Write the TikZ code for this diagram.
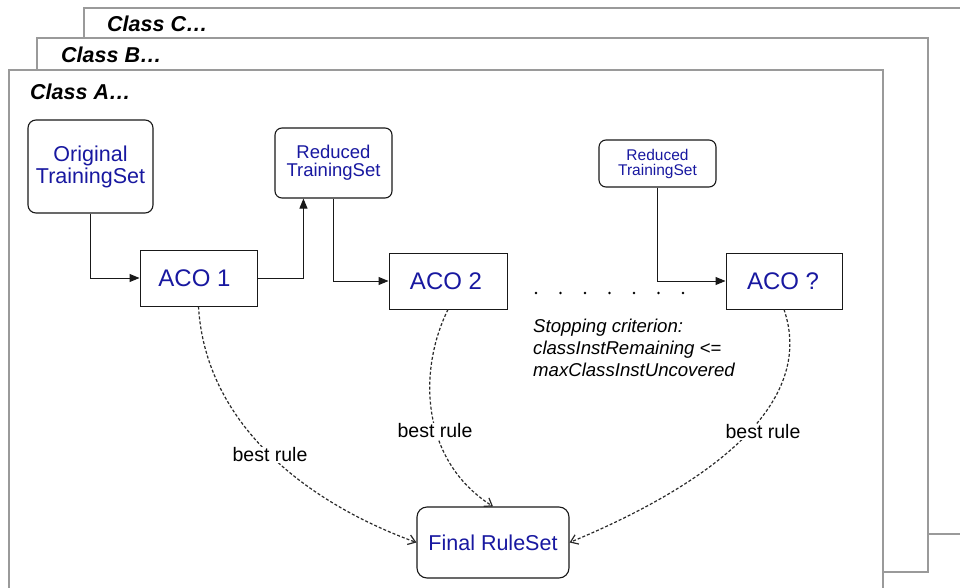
\documentclass[tikz,border=0pt]{standalone}
\usepackage{fontspec}
\setmainfont{Liberation Sans}
\usetikzlibrary{arrows.meta}
\definecolor{framegray}{HTML}{9A9A9A}
\definecolor{textblue}{HTML}{1818A0}
\definecolor{curvegray}{HTML}{2A2A2A}
\newcommand{\setfs}[2]{\fontsize{#1}{#2}\selectfont}
\begin{document}
\begin{tikzpicture}[x=1pt,y=-1pt,
  frame/.style={draw=framegray, line width=1.2pt, fill=white},
  classlabel/.style={anchor=base west, inner sep=0pt, font=\bfseries\itshape\setfs{21.5}{25}},
  rbox/.style={draw=black!90, line width=1.1pt, rounded corners=8pt, fill=white,
    text=textblue, align=center, inner sep=0pt},
  abox/.style={draw=black!90, line width=1pt, fill=white, text=textblue, inner sep=0pt,
    minimum width=117pt, minimum height=56pt, font=\setfs{24}{28}},
  flow/.style={draw=black!90, line width=1pt, -{Triangle[length=10pt,width=8pt]}},
  rulelink/.style={draw=curvegray, line width=1.2pt, dash pattern=on 3pt off 2pt,
    -{Straight Barb[length=7pt,width=10pt]}},
  rulelabel/.style={fill=white, inner sep=1pt, font=\setfs{19.5}{22}}
]
\useasboundingbox (0,0) rectangle (960,588);
\clip (0,0) rectangle (960,588);

% stacked class frames
\path[frame] (84,8) rectangle (980,534);
\path[frame] (37,38) rectangle (928,572);
\path[frame] (9,70) rectangle (883,600);

\node[classlabel] (lblC) at (107,32) {Class C…};
\node[classlabel] (lblB) at (61,63) {Class B…};
\node[classlabel] (lblA) at (30,100) {Class A…};

% training sets and ACO runs
\node[rbox, minimum width=125pt, minimum height=93pt, font=\setfs{21.5}{22}] (orig) at (90.5,166.5) {Original\\TrainingSet};
\node[rbox, minimum width=117pt, minimum height=70pt, rounded corners=7pt, font=\setfs{18.5}{18}] (red1) at (333.5,163) {Reduced\\TrainingSet};
\node[rbox, minimum width=117pt, minimum height=47pt, rounded corners=7pt, font=\setfs{15.5}{15}] (red2) at (657.5,163.5) {Reduced\\TrainingSet};

\node[abox] (aco1) at (198.5,278) {ACO 1\hspace*{8pt}};
\node[abox, minimum width=118pt] (aco2) at (448,281) {ACO 2\hspace*{4pt}};
\node[abox, minimum width=116pt] (acoq) at (784,281) {ACO ?\hspace*{2pt}};

\node[rbox, minimum width=152pt, minimum height=71pt, rounded corners=10pt, font=\setfs{21.5}{24}] (final) at (493,542.5) {Final RuleSet};

% data flow
\draw[flow] (orig.south) |- (aco1.west);
\draw[flow] (aco1.east) -| ([xshift=29pt]red1.south west);
\draw[flow] (red1.south) |- (aco2.west);
\draw[flow] (red2.south) |- (acoq.west);

% ellipsis between runs
\foreach \k in {0,...,6} \fill (536+24.5*\k,293) circle (1.3pt);

\node[anchor=north west, inner sep=0pt, align=left, font=\itshape\setfs{18.6}{22}] (stop) at (533,318.5)
  {Stopping criterion:\\classInstRemaining <=\\maxClassInstUncovered};

% best rules collected into the final rule set
\draw[rulelink] (aco1.south) .. controls (205,420) and (300,500) .. (final.west);
\draw[rulelink] (aco2.south) .. controls (418,370) and (420,460) .. (final.north);
\draw[rulelink] (acoq.south) .. controls (815,400) and (720,480) .. (final.east);

\node[rulelabel] (br1) at (270,455) {best rule};
\node[rulelabel] (br2) at (435,431) {best rule};
\node[rulelabel] (br3) at (763,432) {best rule};
\end{tikzpicture}
\end{document}
